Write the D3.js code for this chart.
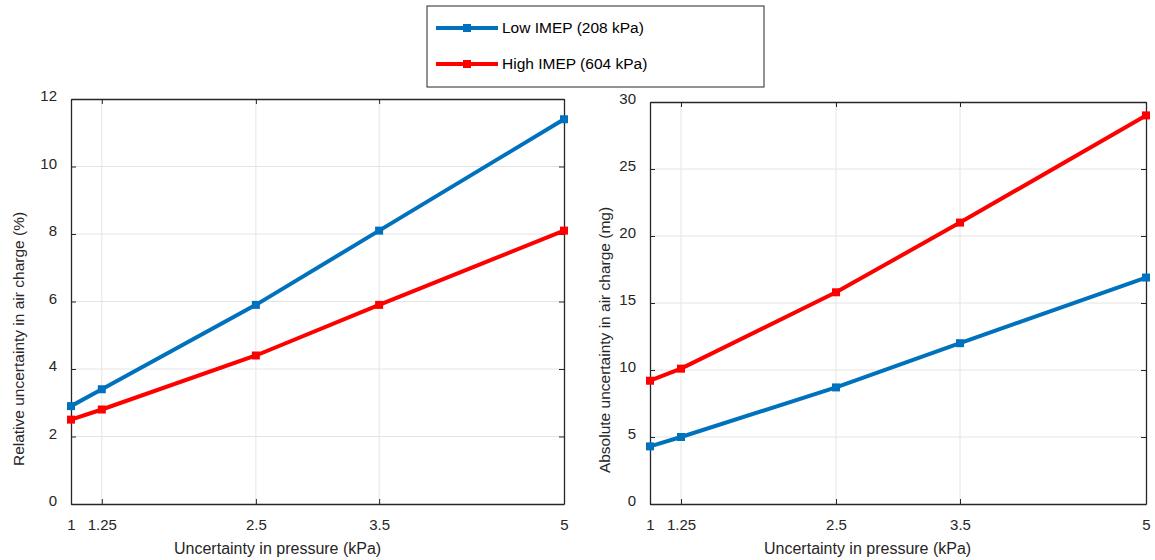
<!DOCTYPE html>
<html>
<head>
<meta charset="utf-8">
<script src="https://cdn.jsdelivr.net/npm/d3@7"></script>
<style>
  html, body { margin: 0; padding: 0; background: #fff; }
  svg { display: block; font-family: "Liberation Sans", Arial, sans-serif; }
</style>
</head>
<body>
<svg id="chart" width="1155" height="560"></svg>
<script>
// Pressure uncertainty levels (kPa)
const pressure = [1, 1.25, 2.5, 3.5, 5];
const xTicks = [1, 1.25, 2.5, 3.5, 5];

// Relative uncertainty in air charge (%)
const relLow  = [2.9, 3.4, 5.9, 8.1, 11.4];
const relHigh = [2.5, 2.8, 4.4, 5.9, 8.1];
const relTicks = [0, 2, 4, 6, 8, 10, 12];

// Absolute uncertainty in air charge (mg)
const absLow  = [4.3, 5.0, 8.7, 12.0, 16.9];
const absHigh = [9.2, 10.1, 15.8, 21.0, 29.0];
const absTicks = [0, 5, 10, 15, 20, 25, 30];

const seriesNames = ["Low IMEP (208 kPa)", "High IMEP (604 kPa)"];
const seriesColors = ["#0072BD", "#FF0000"];

const ink = "#262626";
const svg = d3.select("#chart");

function panel(opts) {
  const { left, right, top, bottom, yMax, yTicks, series, yLabel, xLabelX, yLabelX, yLabelY } = opts;
  const x = d3.scaleLinear().domain([1, 5]).range([left, right]);
  const y = d3.scaleLinear().domain([0, yMax]).range([bottom, top]);
  const g = svg.append("g");

  // grid
  g.append("g").selectAll("line").data(xTicks.filter(t => t > 1 && t < 5)).join("line")
    .attr("x1", d => x(d)).attr("x2", d => x(d)).attr("y1", top).attr("y2", bottom)
    .attr("stroke", "#e4e4e4").attr("stroke-width", 1);
  g.append("g").selectAll("line").data(yTicks.filter(t => t > 0 && t < yMax)).join("line")
    .attr("x1", left).attr("x2", right).attr("y1", d => y(d)).attr("y2", d => y(d))
    .attr("stroke", "#e4e4e4").attr("stroke-width", 1);

  // axes: labelled bottom/left, mirrored ticks on top/right
  const fmt = d => String(d);
  const axB = g.append("g").attr("transform", `translate(0,${bottom})`)
    .call(d3.axisBottom(x).tickValues(xTicks).tickFormat(fmt).tickSizeInner(-5).tickSizeOuter(0).tickPadding(15));
  const axT = g.append("g").attr("transform", `translate(0,${top})`)
    .call(d3.axisTop(x).tickValues(xTicks).tickFormat("").tickSizeInner(-5).tickSizeOuter(0));
  const axL = g.append("g").attr("transform", `translate(${left},0)`)
    .call(d3.axisLeft(y).tickValues(yTicks).tickFormat(fmt).tickSizeInner(-5).tickSizeOuter(0).tickPadding(14));
  const axR = g.append("g").attr("transform", `translate(${right},0)`)
    .call(d3.axisRight(y).tickValues(yTicks).tickFormat("").tickSizeInner(-5).tickSizeOuter(0));
  [axB, axT, axL, axR].forEach(a => {
    a.select(".domain").attr("stroke", ink).attr("stroke-width", 1.3);
    a.selectAll(".tick line").attr("stroke", ink);
    a.selectAll(".tick text").attr("fill", ink).style("font-size", "15px")
      .style("font-family", "'Liberation Sans', Arial, sans-serif");
  });
  axL.selectAll(".tick text").attr("dy", "0.1em");

  // axis titles
  g.append("text").attr("x", xLabelX).attr("y", bottom + 50)
    .attr("text-anchor", "start").attr("fill", ink).style("font-size", "16px")
    .text("Uncertainty in pressure (kPa)");
  g.append("text").attr("transform", `translate(${yLabelX},${yLabelY}) rotate(-90)`)
    .attr("text-anchor", "middle").attr("fill", ink).style("font-size", "15.5px")
    .text(yLabel);

  // series lines and markers
  const line = d3.line().x((d, i) => x(pressure[i])).y(d => y(d));
  series.forEach((vals, si) => {
    g.append("path").datum(vals).attr("d", line)
      .attr("fill", "none").attr("stroke", seriesColors[si]).attr("stroke-width", 4)
      .attr("stroke-linejoin", "round");
    g.append("g").selectAll("rect").data(vals).join("rect")
      .attr("x", (d, i) => x(pressure[i]) - 4).attr("y", d => y(d) - 4)
      .attr("width", 8).attr("height", 8).attr("fill", seriesColors[si]);
  });
}

panel({ left: 71, right: 564, top: 99, bottom: 504, yMax: 12, yTicks: relTicks,
        series: [relLow, relHigh], yLabel: "Relative uncertainty in air charge (%)",
        xLabelX: 174, yLabelX: 24, yLabelY: 339 });
panel({ left: 650, right: 1146, top: 102, bottom: 504, yMax: 30, yTicks: absTicks,
        series: [absLow, absHigh], yLabel: "Absolute uncertainty in air charge (mg)",
        xLabelX: 764, yLabelX: 610, yLabelY: 340 });

// legend
const lg = svg.append("g");
lg.append("rect").attr("x", 427).attr("y", 6).attr("width", 337).attr("height", 81)
  .attr("fill", "#fff").attr("stroke", ink).attr("stroke-width", 1);
seriesNames.forEach((name, i) => {
  const yy = 28 + i * 36;
  lg.append("line").attr("x1", 436).attr("x2", 498).attr("y1", yy).attr("y2", yy)
    .attr("stroke", seriesColors[i]).attr("stroke-width", 4);
  lg.append("rect").attr("x", 463).attr("y", yy - 4).attr("width", 8).attr("height", 8)
    .attr("fill", seriesColors[i]);
  lg.append("text").attr("x", 502).attr("y", yy + 5).attr("fill", "#000")
    .style("font-size", "15.5px").text(name);
});
</script>
</body>
</html>
